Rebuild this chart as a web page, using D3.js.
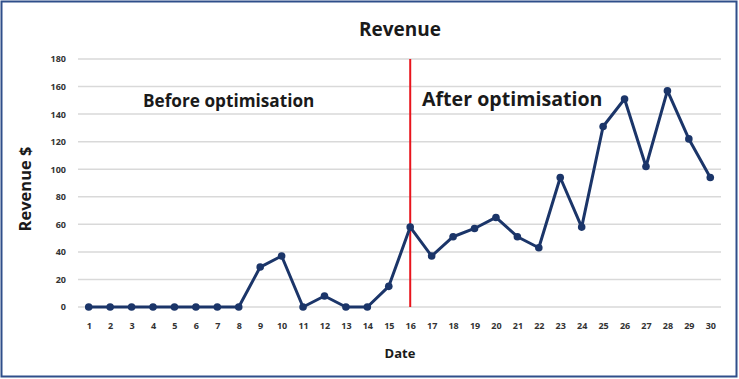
<!DOCTYPE html>
<html><head><meta charset="utf-8">
<script src="https://cdn.jsdelivr.net/npm/d3@7"></script>
<style>body{margin:0;background:#fff}svg{display:block;font-family:"Open Sans",sans-serif}</style>
</head><body>
<svg id="c" width="739" height="379"></svg>
<script>
const dates = d3.range(1, 31).map(String);
const revenue = [0,0,0,0,0,0,0,0,29,37,0,8,0,0,15,58,37,51,57,65,51,43,94,58,131,151,102,157,122,94];
const yTicks = [0,20,40,60,80,100,120,140,160,180];
const splitDate = "16";

const svg = d3.select("#c");
const m = {left:78, right:18, top:59, bottom:72};
const W = 739, H = 379;
const x = d3.scalePoint().domain(dates).range([m.left, W - m.right]).padding(0.5);
const y = d3.scaleLinear().domain([0,180]).range([307, 59]);

svg.append("rect").attr("x",1.5).attr("y",1.5).attr("width",W-4).attr("height",H-4)
  .attr("fill","#fff").attr("stroke","#2f4f8a").attr("stroke-width",2);

// grid
svg.append("g").selectAll("line").data(yTicks).join("line")
  .attr("x1", m.left).attr("x2", W - m.right)
  .attr("y1", d=>y(d)).attr("y2", d=>y(d))
  .attr("stroke","#d9d9d9").attr("stroke-width",1.5);

// y axis
const ya = svg.append("g").attr("transform",`translate(${m.left},0)`)
  .call(d3.axisLeft(y).tickValues(yTicks).tickSize(0).tickPadding(12));
ya.select(".domain").remove();
ya.selectAll("text").attr("font-size",9).attr("font-weight",700).attr("fill","#333").attr("font-family","Open Sans");

// x axis
const xa = svg.append("g").attr("transform",`translate(0,${y(0)})`)
  .call(d3.axisBottom(x).tickSize(0).tickPadding(16));
xa.select(".domain").remove();
xa.selectAll("text").attr("font-size",9).attr("font-weight",700).attr("fill","#333").attr("font-family","Open Sans");

// red split line
svg.append("line").attr("x1",x(splitDate)).attr("x2",x(splitDate))
  .attr("y1",y(180)).attr("y2",y(0)).attr("stroke","#e8141c").attr("stroke-width",2);

// line
const data = dates.map((d,i)=>({d, v: revenue[i]}));
svg.append("path").datum(data)
  .attr("d", d3.line().x(p=>x(p.d)).y(p=>y(p.v)))
  .attr("fill","none").attr("stroke","#1b3569").attr("stroke-width",3).attr("stroke-linejoin","round");
svg.append("g").selectAll("circle").data(data).join("circle")
  .attr("cx",p=>x(p.d)).attr("cy",p=>y(p.v)).attr("r",3.8).attr("fill","#1b3569");

// titles
svg.append("text").attr("x",400).attr("y",36).attr("text-anchor","middle")
  .attr("font-size",19).attr("font-weight",700).attr("fill","#1a1a1a").text("Revenue");
svg.append("text").attr("transform","translate(31,189) rotate(-90)").attr("text-anchor","middle")
  .attr("font-size",16.5).attr("font-weight",700).attr("fill","#1a1a1a").text("Revenue $");
svg.append("text").attr("x",400).attr("y",358).attr("text-anchor","middle")
  .attr("font-size",13).attr("font-weight",700).attr("fill","#1a1a1a").text("Date");

svg.append("text").attr("x",143).attr("y",107)
  .attr("font-size",17.2).attr("font-weight",700).attr("fill","#1a1a1a").text("Before optimisation");
svg.append("text").attr("x",422).attr("y",106)
  .attr("font-size",19.6).attr("font-weight",700).attr("fill","#1a1a1a").text("After optimisation");
</script>
</body></html>
